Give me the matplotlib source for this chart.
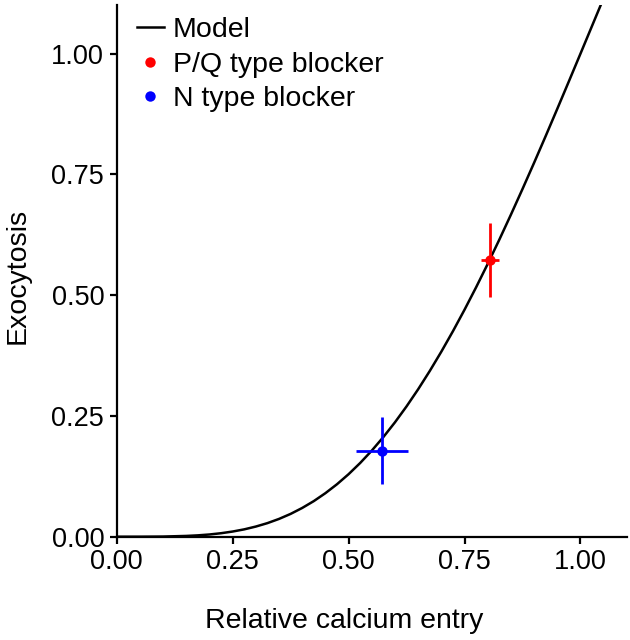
import matplotlib
matplotlib.use("Agg")
import matplotlib.pyplot as plt

plt.rcParams['font.family'] = ['Liberation Sans', 'DejaVu Sans']

# Model curve
model_x = [0, .05, .1, .15, .175, .2, .225, .25, .275, .3, .325, .35, .375,
           .4, .425, .45, .475, .5, .525, .55, .575, .6, .625, .65, .675,
           .7, .725, .75, .775, .8, .825, .85, .875, .9, .925, .95, .975,
           1.0, 1.025, 1.05]
model_y = [0, 0.00003, 0.0003, 0.0016, 0.0028, 0.0046, 0.0072, 0.0107,
           0.0152, 0.0210, 0.0281, 0.0368, 0.0472, 0.0595, 0.0737, 0.0901,
           0.1086, 0.1294, 0.1526, 0.1782, 0.2063, 0.2368, 0.2698, 0.3052,
           0.3430, 0.3831, 0.4254, 0.4699, 0.5164, 0.5648, 0.6149, 0.6667,
           0.7198, 0.7741, 0.8295, 0.8858, 0.9427, 1.0, 1.0576, 1.1152]

# Data points
pq_x = [0.805]
pq_y = [0.573]
pq_xerr = [0.02]
pq_yerr = [0.076]

n_x = [0.572]
n_y = [0.178]
n_xerr = [0.057]
n_yerr = [0.069]

xticks = [0.0, 0.25, 0.5, 0.75, 1.0]
yticks = [0.0, 0.25, 0.5, 0.75, 1.0]
xlabels = ["0.00", "0.25", "0.50", "0.75", "1.00"]
ylabels = ["0.00", "0.25", "0.50", "0.75", "1.00"]

fig = plt.figure(figsize=(6.3, 6.4), dpi=100)
ax = fig.add_axes([0.1852, 0.1614, 0.995 - 0.1852, 0.9916 - 0.1614])

ax.plot(model_x, model_y, color='black', lw=1.8, label='Model', zorder=2,
        solid_joinstyle='round')

ax.errorbar(pq_x, pq_y, xerr=pq_xerr, yerr=pq_yerr, fmt='none',
            ecolor='#ff0000', elinewidth=2.0, capsize=0, zorder=3)
ax.errorbar(n_x, n_y, xerr=n_xerr, yerr=n_yerr, fmt='none',
            ecolor='#0000ff', elinewidth=2.0, capsize=0, zorder=3)
ax.plot(pq_x, pq_y, 'o', color='#ff0000', ms=7.5, mec='none',
        label='P/Q type blocker', zorder=4)
ax.plot(n_x, n_y, 'o', color='#0000ff', ms=7.5, mec='none',
        label='N type blocker', zorder=4)

ax.set_xlim(0, 1.1)
ax.set_ylim(0, 1.1)
ax.set_xticks(xticks)
ax.set_xticklabels(xlabels)
ax.set_yticks(yticks)
ax.set_yticklabels(ylabels)

for s in ['top', 'right']:
    ax.spines[s].set_visible(False)
for s in ['left', 'bottom']:
    ax.spines[s].set_linewidth(1.6)

ax.tick_params(axis='both', direction='out', length=5, width=1.6,
               labelsize=19.5, pad=4)

ax.set_xlabel('Relative calcium entry', fontsize=20.5)
ax.set_ylabel('Exocytosis', fontsize=20.5)
ax.xaxis.set_label_coords(0.445, -0.135)
ax.yaxis.set_label_coords(-0.168, 0.49)

ax.legend(loc='upper left', bbox_to_anchor=(0.039, 0.978), frameon=False,
          fontsize=20.5, handlelength=0.95, handletextpad=0.32,
          borderpad=0, borderaxespad=0, labelspacing=0.3, markerscale=1.0)

fig.savefig('out.png', dpi=100)
